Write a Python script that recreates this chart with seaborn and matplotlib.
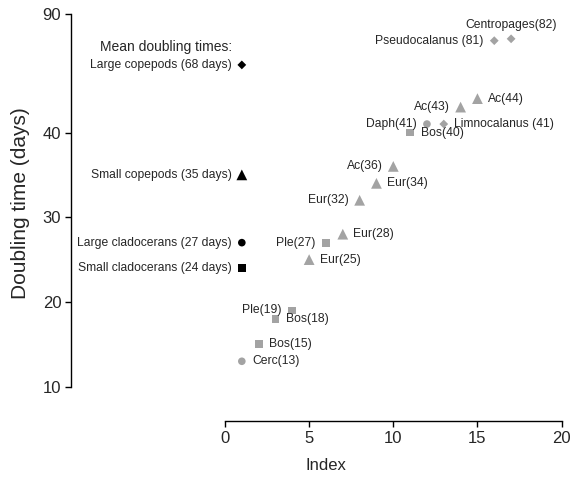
import numpy as np
import pandas as pd
import matplotlib.pyplot as plt
import seaborn as sns

# species doubling times, ranked
rank = [1, 2, 3, 4, 5, 6, 7, 8, 9, 10, 11, 12, 13, 14, 15, 16, 17]
days = [13, 15, 18, 19, 25, 27, 28, 32, 34, 36, 40, 41, 41, 43, 44, 81, 82]
group = ['Large cladocerans', 'Small cladocerans', 'Small cladocerans', 'Small cladocerans',
         'Small copepods', 'Small cladocerans', 'Small copepods', 'Small copepods',
         'Small copepods', 'Small copepods', 'Small cladocerans', 'Large cladocerans',
         'Large copepods', 'Small copepods', 'Small copepods', 'Large copepods',
         'Large copepods']
labels = ['Cerc(13)', 'Bos(15)', 'Bos(18)', 'Ple(19)', 'Eur(25)', 'Ple(27)', 'Eur(28)',
          'Eur(32)', 'Eur(34)', 'Ac(36)', 'Bos(40)', 'Daph(41)', 'Limnocalanus (41)',
          'Ac(43)', 'Ac(44)', 'Pseudocalanus (81)', 'Centropages(82)']
label_side = ['right', 'right', 'right', 'left', 'right', 'left', 'right', 'left', 'right',
              'left', 'right', 'left', 'right', 'left', 'right', 'left', 'top']

# group means
mean_groups = ['Large copepods', 'Small copepods', 'Large cladocerans', 'Small cladocerans']
mean_days = [68, 35, 27, 24]
mean_rank = [1, 1, 1, 1]

markers = {'Large copepods': 'D', 'Small copepods': '^',
           'Large cladocerans': 'o', 'Small cladocerans': 's'}
sizes = {'Large copepods': 20, 'Small copepods': 60,
         'Large cladocerans': 30, 'Small cladocerans': 32}

# y axis is linear up to 44 and squeezed above
knot_val = [0, 44, 68, 82, 90, 200]
knot_pos = [0, 44, 47.98, 51.06, 53.97, 93.57]


def fwd(y):
    return np.interp(y, knot_val, knot_pos)


def inv(y):
    return np.interp(y, knot_pos, knot_val)


sns.set_style('white')
plt.rcParams['font.family'] = ['Liberation Sans', 'DejaVu Sans']

df = pd.DataFrame({'rank': rank, 'days': days, 'group': group})
means = pd.DataFrame({'rank': mean_rank, 'days': mean_days, 'group': mean_groups})

fig = plt.figure(figsize=(5.72, 4.95), dpi=100)
ax = fig.add_axes([71 / 572, 74 / 495, 499 / 572, 416 / 495])
ax.set_yscale('function', functions=(fwd, inv))

sns.scatterplot(data=df, x='rank', y='days', style='group', markers=markers,
                size='group', sizes=sizes, color='#a3a3a3', linewidth=0,
                legend=False, ax=ax)
sns.scatterplot(data=means, x='rank', y='days', style='group', markers=markers,
                size='group', sizes=sizes, color='black', linewidth=0,
                legend=False, ax=ax)

for x, y, lab, side in zip(rank, days, labels, label_side):
    if side == 'right':
        ax.annotate(lab, (x, y), xytext=(7.5, 0), textcoords='offset points',
                    ha='left', va='center', fontsize=8.7)
    elif side == 'left':
        ax.annotate(lab, (x, y), xytext=(-7.5, 0), textcoords='offset points',
                    ha='right', va='center', fontsize=8.7)
    else:
        ax.annotate(lab, (x, y), xytext=(0, 10), textcoords='offset points',
                    ha='center', va='center', fontsize=8.7)

for x, y, g in zip(mean_rank, mean_days, mean_groups):
    ax.annotate(f'{g} ({y} days)', (x, y), xytext=(-7.5, 0), textcoords='offset points',
                ha='right', va='center', fontsize=8.7)
ax.annotate('Mean doubling times:', (mean_rank[0], mean_days[0]), xytext=(-7, 13),
            textcoords='offset points', ha='right', va='center', fontsize=10)

ax.set_xlim(-9.15, 20.5)
ax.set_ylim(5.95, 93)
ax.set_xticks([0, 5, 10, 15, 20])
ax.set_yticks([10, 20, 30, 40, 90])
ax.set_yticklabels(['10', '20', '30', '40', '90'])
ax.minorticks_off()

for s in ['top', 'right']:
    ax.spines[s].set_visible(False)
ax.spines['left'].set_bounds(10, 90)
ax.spines['bottom'].set_bounds(0, 20)
for s in ['left', 'bottom']:
    ax.spines[s].set_color('black')
    ax.spines[s].set_linewidth(1.0)
ax.tick_params(direction='out', length=4, width=1.0, color='black',
               labelsize=12, pad=3, left=True, bottom=True)

ax.set_xlabel('Index', fontsize=12)
ax.set_ylabel('Doubling time (days)', fontsize=15)
ax.xaxis.set_label_coords((326 - 71) / 499, -37 / 416)
ax.yaxis.set_label_coords(-41 / 499, (421 - 203) / 416)

plt.savefig('out.png', dpi=100)
